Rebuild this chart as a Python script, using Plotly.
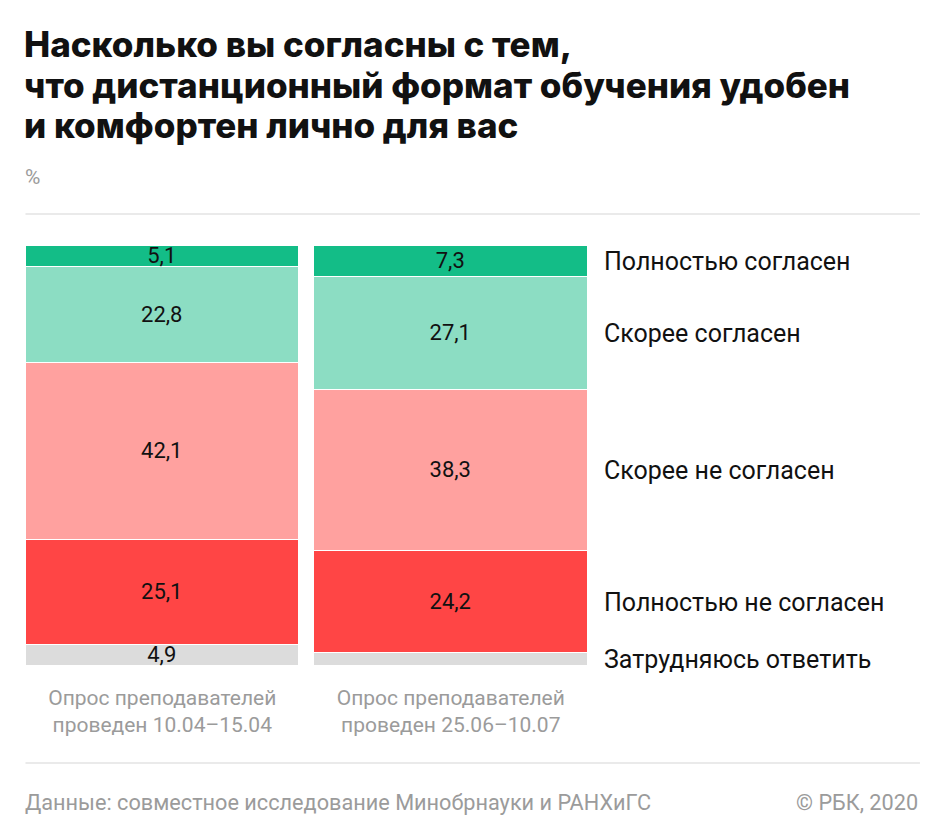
import plotly.graph_objects as go

# ---- data ----
categories = ["Опрос преподавателей<br>проведен 10.04–15.04",
              "Опрос преподавателей<br>проведен 25.06–10.07"]
series_names = ["Затрудняюсь ответить", "Полностью не согласен",
                "Скорее не согласен", "Скорее согласен", "Полностью согласен"]
hard_to_say = [4.9, 3.1]
fully_disagree = [25.1, 24.2]
rather_disagree = [42.1, 38.3]
rather_agree = [22.8, 27.1]
fully_agree = [5.1, 7.3]
show_label = [[True, False], [True, True], [True, True], [True, True], [True, True]]
title_lines = ["Насколько вы согласны с тем,",
               "что дистанционный формат обучения удобен",
               "и комфортен лично для вас"]

series_values = [hard_to_say, fully_disagree, rather_disagree, rather_agree, fully_agree]
colors = ["#DCDCDC", "#FF4545", "#FFA19F", "#8CDDC3", "#13BD87"]

W, H = 945, 839
PL, PR = 17.5, 595.5      # plot area px x
PT, PB = 246, 666         # plot area px y


def px_x(px):
    return (px - PL) / (PR - PL)


def px_y(py):
    return (PB - py) / (PB - PT)


fig = go.Figure()
xs = [0, 1]
for name, vals, col, shows in zip(series_names, series_values, colors, show_label):
    txt = [f"{v:.1f}".replace(".", ",") if s else "" for v, s in zip(vals, shows)]
    fig.add_trace(go.Bar(
        x=xs, y=vals, name=name, width=0.948,
        marker=dict(color=col, line=dict(color="white", width=1.5)),
        text=txt, textposition="inside", insidetextanchor="middle",
        textfont=dict(family="Roboto", size=22, color="#111111"),
        cliponaxis=False, hoverinfo="skip",
    ))

# right-side labels positioned at centers of the second bar's segments
cum = 0
for name, vals in zip(series_names, series_values):
    mid = cum + vals[1] / 2
    cum += vals[1]
    fig.add_annotation(x=1 + 0.474, y=mid, xref="x", yref="y", text=name,
                       showarrow=False, xanchor="left", yanchor="middle", xshift=14,
                       font=dict(family="Roboto", size=25, color="#111111"))

# title, one annotation per line
for line, top in zip(title_lines, (21, 62, 102)):
    fig.add_annotation(x=px_x(22), y=px_y(top), xref="paper", yref="paper",
                       text=line, showarrow=False, xanchor="left", yanchor="top",
                       align="left",
                       font=dict(family="Inter", size=35, color="#111111", weight=800))
fig.add_annotation(x=px_x(23), y=px_y(177), xref="paper", yref="paper", text="%",
                   showarrow=False, xanchor="left", yanchor="middle",
                   font=dict(family="Roboto", size=21, color="#9B9B9B"))
fig.add_annotation(x=px_x(23), y=px_y(802), xref="paper", yref="paper",
                   text="Данные: совместное исследование Минобрнауки и РАНХиГС",
                   showarrow=False, xanchor="left", yanchor="middle",
                   font=dict(family="Roboto", size=21.7, color="#9B9B9B"))
fig.add_annotation(x=px_x(921), y=px_y(802), xref="paper", yref="paper",
                   text="© РБК, 2020",
                   showarrow=False, xanchor="right", yanchor="middle",
                   font=dict(family="Roboto", size=21.7, color="#9B9B9B"))

for yy in (214, 763):
    fig.add_shape(type="line", xref="paper", yref="paper",
                  x0=px_x(25), x1=px_x(921), y0=px_y(yy), y1=px_y(yy),
                  line=dict(color="#E3E3E3", width=1.5))

fig.update_layout(
    width=W, height=H, barmode="stack", bargap=0,
    margin=dict(l=PL, r=W - PR, t=PT, b=H - PB, pad=0),
    plot_bgcolor="white", paper_bgcolor="white", showlegend=False,
    uniformtext=dict(minsize=22, mode="show"),
    xaxis=dict(range=[-0.5, 1.5], tickvals=xs, ticktext=categories, showgrid=False,
               zeroline=False, showline=False, ticks="", ticklabelstandoff=17,
               tickfont=dict(family="Roboto", size=21, color="#9B9B9B"),
               fixedrange=True),
    yaxis=dict(range=[0, 100], visible=False, fixedrange=True),
)

fig.write_html("out.html", config={"displayModeBar": False},
               post_script="document.body.style.margin='0';")
